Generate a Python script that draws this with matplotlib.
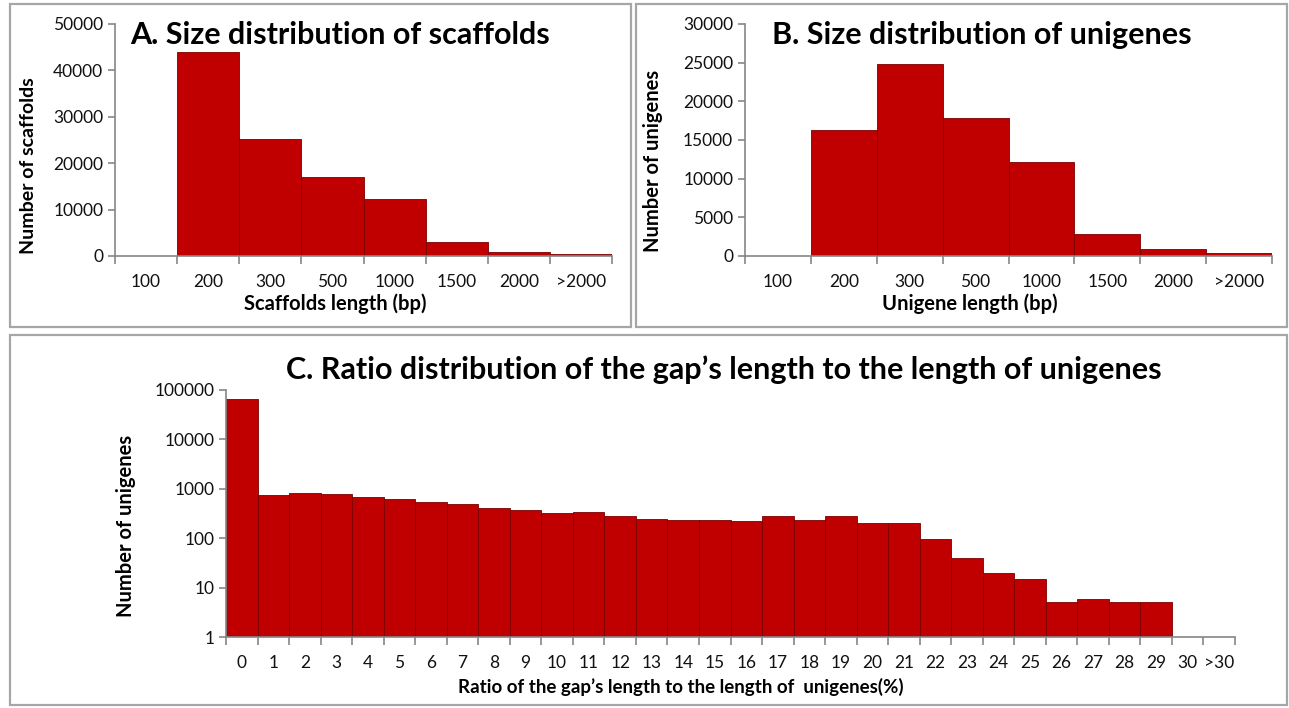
import matplotlib.pyplot as plt
from matplotlib.patches import Rectangle
from matplotlib.ticker import FixedLocator, NullLocator, FixedFormatter

plt.rcParams["font.family"] = ["Lato", "DejaVu Sans"]

# Panel A / B categories
length_bins = ["100", "200", "300", "500", "1000", "1500", "2000", ">2000"]
scaffold_counts = [0, 43900, 25300, 16950, 12200, 3000, 930, 430]
unigene_counts = [0, 16250, 24780, 17840, 12110, 2890, 950, 390]

# Panel C categories
ratio_bins = [str(i) for i in range(31)] + [">30"]
gap_counts = [66000, 740, 827, 776, 696, 610, 537, 497, 418, 364, 322, 343,
              285, 247, 233, 233, 219, 280, 233, 280, 203, 203, 95, 39,
              19.5, 15, 5, 6, 5, 5, 0, 0]

BAR = "#C00000"
EDGE = "#7A0000"
AXC = "#868686"
W, H = 1289, 708

fig = plt.figure(figsize=(W / 100, H / 100), dpi=100)


def box(x0, y0, x1, y1):
    """Panel frame, given in pixel coords (top-left origin)."""
    r = Rectangle((x0 / W, 1 - y1 / H), (x1 - x0) / W, (y1 - y0) / H,
                  transform=fig.transFigure, fill=False,
                  edgecolor="#A6A6A6", linewidth=1.6)
    fig.patches.append(r)


def axes_px(x0, y0, x1, y1):
    return fig.add_axes([x0 / W, 1 - y1 / H, (x1 - x0) / W, (y1 - y0) / H])


def style(ax, labels, fs=12.5):
    n = len(labels)
    ax.set_xlim(-0.5, n - 0.5)
    for s in ["top", "right"]:
        ax.spines[s].set_visible(False)
    for s in ["left", "bottom"]:
        ax.spines[s].set_color(AXC)
        ax.spines[s].set_linewidth(1.2)
    ax.xaxis.set_major_locator(FixedLocator(range(n)))
    ax.xaxis.set_major_formatter(FixedFormatter(labels))
    ax.xaxis.set_minor_locator(FixedLocator([i - 0.5 for i in range(n + 1)]))
    ax.tick_params(axis="x", which="major", length=0, pad=13,
                   labelsize=fs, labelcolor="#111111")
    ax.tick_params(axis="x", which="minor", length=6, width=1.2, color=AXC)
    ax.tick_params(axis="y", which="major", length=5, width=1.2, color=AXC,
                   labelsize=fs, labelcolor="#111111", direction="out")


box(10, 4, 631, 327)
box(636, 4, 1287, 327)
box(10, 335, 1287, 705)

# ---------------- Panel A ----------------
axA = axes_px(115, 24, 612, 256)
axA.bar(range(len(length_bins)), scaffold_counts, width=1.0,
        color=BAR, edgecolor=EDGE, linewidth=0.6)
axA.set_ylim(0, 50000)
axA.set_yticks(range(0, 50001, 10000))
style(axA, length_bins)
axA.set_xlabel("Scaffolds length (bp)", fontsize=14.5, fontweight="bold")
axA.set_ylabel("Number of scaffolds", fontsize=14, fontweight="bold")
axA.xaxis.set_label_coords(0.443, -0.16)
axA.yaxis.set_label_coords(-0.157, 0.39)
fig.text(130 / W, 1 - 35 / H, "A. Size distribution of scaffolds",
         fontsize=22, fontweight="bold", va="center", ha="left")

# ---------------- Panel B ----------------
axB = axes_px(745, 24, 1272, 256)
axB.bar(range(len(length_bins)), unigene_counts, width=1.0,
        color=BAR, edgecolor=EDGE, linewidth=0.6)
axB.set_ylim(0, 30000)
axB.set_yticks(range(0, 30001, 5000))
style(axB, length_bins)
axB.set_xlabel("Unigene length (bp)", fontsize=14.5, fontweight="bold")
axB.set_ylabel("Number of unigenes", fontsize=14.5, fontweight="bold")
axB.xaxis.set_label_coords(0.427, -0.16)
axB.yaxis.set_label_coords(-0.156, 0.41)
fig.text(772 / W, 1 - 35 / H, "B. Size distribution of unigenes",
         fontsize=22, fontweight="bold", va="center", ha="left")

# ---------------- Panel C ----------------
axC = axes_px(226, 390, 1235, 637)
axC.bar(range(len(ratio_bins)), gap_counts, width=1.0,
        color=BAR, edgecolor=EDGE, linewidth=0.6)
axC.set_yscale("log")
axC.set_ylim(1, 100000)
yt = [1, 10, 100, 1000, 10000, 100000]
axC.yaxis.set_major_locator(FixedLocator(yt))
axC.yaxis.set_major_formatter(FixedFormatter([str(v) for v in yt]))
axC.yaxis.set_minor_locator(NullLocator())
style(axC, ratio_bins, fs=12.5)
axC.set_xlabel("Ratio of the gap\u2019s length to the length of  unigenes(%)",
               fontsize=13.5, fontweight="bold")
axC.set_ylabel("Number of unigenes", fontsize=14.5, fontweight="bold")
axC.xaxis.set_label_coords(0.451, -0.165)
axC.yaxis.set_label_coords(-0.089, 0.45)
fig.text(724 / W, 1 - 370 / H,
         "C. Ratio distribution of the gap\u2019s length to the length of unigenes",
         fontsize=22, fontweight="bold", va="center", ha="center")

fig.savefig("out.png", dpi=100)
